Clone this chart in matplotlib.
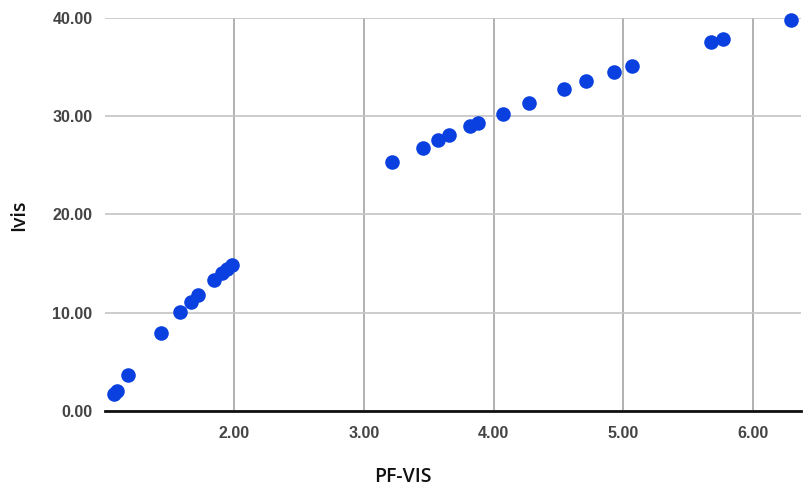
import matplotlib
matplotlib.use("Agg")
import matplotlib.pyplot as plt

# PF-VIS vs Ivis values
pf_vis = [1.078, 1.10, 1.186, 1.438, 1.584, 1.666, 1.72, 1.848, 1.905, 1.944, 1.987,
          3.22, 3.455, 3.574, 3.654, 3.818, 3.877, 4.072, 4.272, 4.542, 4.712,
          4.93, 5.069, 5.677, 5.765, 6.29]
ivis = [1.70, 2.04, 3.64, 7.94, 10.05, 11.1, 11.75, 13.3, 14.0, 14.4, 14.87,
        25.3, 26.75, 27.57, 28.04, 28.99, 29.33, 30.24, 31.3, 32.76, 33.58,
        34.52, 35.07, 37.51, 37.85, 39.79]

x_ticks = [2, 3, 4, 5, 6]
y_ticks = [0, 10, 20, 30, 40]

fig = plt.figure(figsize=(8.1, 4.95), dpi=100)
ax = fig.add_axes([0.1296, 0.1703, 0.989 - 0.1296, 0.9636 - 0.1703])

ax.scatter(pf_vis, ivis, s=110, color="#0a40e0", zorder=3, linewidths=0, clip_on=False)

ax.set_xlim(1.006, 6.368)
ax.set_ylim(0, 40)
ax.set_xticks(x_ticks)
ax.set_yticks(y_ticks)
ax.set_xticklabels(["%.2f" % v for v in x_ticks])
ax.set_yticklabels(["%.2f" % v for v in y_ticks])

for side in ["left", "right", "top"]:
    ax.spines[side].set_visible(False)
ax.spines["bottom"].set_color("#111111")
ax.spines["bottom"].set_linewidth(2)
ax.spines["bottom"].set_zorder(4)

ax.xaxis.grid(True, color="#ababab", linewidth=1.3)
ax.yaxis.grid(True, color="#c4c4c4", linewidth=1.2)
ax.set_axisbelow(True)

ax.tick_params(length=0, labelsize=11.5, labelcolor="#444444")
ax.tick_params(axis="x", pad=11)
ax.tick_params(axis="y", pad=9)
for lab in ax.get_xticklabels() + ax.get_yticklabels():
    lab.set_fontfamily("Liberation Sans")
    lab.set_fontweight("bold")

fig.text(0.497, 0.036, "PF-VIS", ha="center", va="center", fontsize=14,
         fontfamily="Open Sans", fontweight="semibold", color="#111111")
fig.text(0.024, 0.565, "Ivis", ha="center", va="center", rotation=90,
         fontsize=14, fontfamily="Open Sans", fontweight="semibold", color="#111111")

fig.savefig("out.png", dpi=100)
